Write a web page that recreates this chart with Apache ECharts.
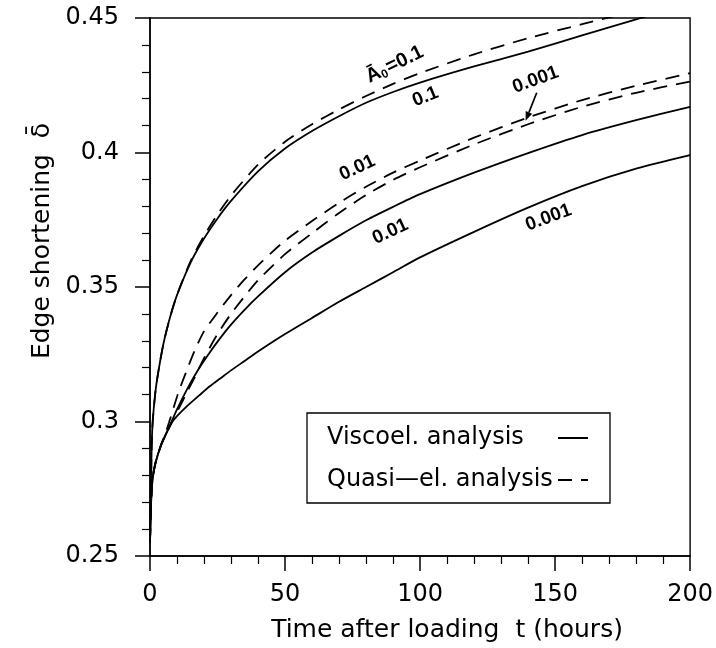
<!DOCTYPE html>
<html>
<head>
<meta charset="utf-8">
<script src="https://cdn.jsdelivr.net/npm/echarts@6/dist/echarts.min.js"></script>
<style>
html,body{margin:0;padding:0;background:#fff;}
#chart{width:716px;height:648px;}
</style>
</head>
<body>
<div id="chart"></div>
<script>
// ---- Data ----
const xTicks = [0, 50, 100, 150, 200];
const yTicks = [0.25, 0.3, 0.35, 0.4, 0.45];

// Viscoelastic analysis (solid), A0 = 0.1, 0.01, 0.001
const tVisc01 = [0, 0.3, 0.6, 1, 2, 3, 5, 7.5, 10, 15, 20, 25, 30, 40, 50, 60, 70, 80, 90, 100, 120, 140, 160, 180, 185];
const visc01  = [0.255, 0.272, 0.290, 0.300, 0.311, 0.318, 0.329, 0.339, 0.347, 0.359, 0.368, 0.3755, 0.382, 0.393, 0.4015, 0.408, 0.4135, 0.4185, 0.4225, 0.426, 0.432, 0.4375, 0.4435, 0.4495, 0.451];

const tVisc001 = [0, 0.3, 0.6, 1, 2, 4, 6, 8, 10, 14, 18, 22, 26, 30, 35, 40, 50, 60, 70, 80, 90, 100, 120, 140, 160, 180, 200];
const visc001  = [0.255, 0.267, 0.274, 0.279, 0.2845, 0.291, 0.2955, 0.300, 0.3045, 0.3125, 0.3195, 0.3255, 0.331, 0.336, 0.3415, 0.3465, 0.3555, 0.3628, 0.369, 0.3748, 0.3798, 0.3845, 0.3925, 0.3998, 0.4065, 0.412, 0.417];

const tVisc0001 = [0, 0.3, 0.6, 1, 2, 4, 6, 8, 10, 14, 18, 22, 26, 30, 35, 40, 50, 60, 70, 80, 90, 100, 120, 140, 160, 180, 200];
const visc0001  = [0.255, 0.267, 0.274, 0.279, 0.2845, 0.291, 0.2955, 0.2995, 0.302, 0.306, 0.3095, 0.313, 0.316, 0.319, 0.3225, 0.326, 0.3325, 0.3385, 0.3445, 0.350, 0.3555, 0.361, 0.3705, 0.3795, 0.3875, 0.394, 0.399];

// Quasi-elastic analysis (dashed), A0 = 0.1, 0.01, 0.001
const tQuasi01 = [0, 0.3, 0.6, 1, 2, 3, 5, 7.5, 10, 15, 20, 25, 30, 40, 50, 60, 70, 80, 90, 100, 120, 140, 160, 175];
const quasi01  = [0.255, 0.272, 0.290, 0.300, 0.311, 0.318, 0.329, 0.339, 0.347, 0.3595, 0.369, 0.377, 0.384, 0.3955, 0.404, 0.4105, 0.416, 0.421, 0.4255, 0.4295, 0.4365, 0.4425, 0.4477, 0.4515];

const tQuasi001 = [0, 0.3, 0.6, 1, 2, 4, 5, 7, 10.5, 14, 16.6, 20, 25, 30, 35, 40, 45, 50, 60, 70, 80, 90, 100, 120, 140, 160, 180, 200];
const quasi001  = [0.255, 0.267, 0.274, 0.279, 0.2845, 0.291, 0.2935, 0.2995, 0.3107, 0.320, 0.3265, 0.3335, 0.3405, 0.347, 0.3528, 0.358, 0.3628, 0.3672, 0.3745, 0.3813, 0.3873, 0.3925, 0.397, 0.4055, 0.413, 0.4195, 0.4248, 0.4295];

const tQuasi0001 = [0, 0.3, 0.6, 1, 2, 4, 5, 7, 10.5, 14, 16.6, 20, 25, 30, 35, 40, 45, 50, 60, 70, 80, 90, 100, 120, 140, 160, 180, 200];
const quasi0001  = [0.255, 0.267, 0.274, 0.279, 0.2845, 0.291, 0.2935, 0.2975, 0.3045, 0.3115, 0.3165, 0.3235, 0.3325, 0.340, 0.3465, 0.3525, 0.3575, 0.3622, 0.370, 0.3775, 0.3842, 0.3898, 0.3945, 0.403, 0.4105, 0.417, 0.4222, 0.4264];

// Curve annotations [text, t, value, rotation(deg)]
const curveLabels = [
  ['A0', 90.6, 0.4327, 26],
  ['0.1', 102, 0.4207, 22],
  ['0.001', 142.8, 0.427, 20],
  ['0.01', 76.8, 0.3943, 25],
  ['0.01', 89, 0.3706, 25],
  ['0.001', 147.6, 0.3758, 20]
];
// arrow from the upper 0.001 label to the lower dashed curve: [t, value]
const arrowFrom = [143.2, 0.4222];
const arrowTo = [139.1, 0.4118];

const legendNames = ['Viscoel. analysis', 'Quasi\u2014el. analysis'];

// ---- Chart ----
const FONT = 'DejaVu Sans';
const LFONT = 'Liberation Sans';
const chart = echarts.init(document.getElementById('chart'), null, {renderer: 'canvas'});

function zip(t, v) { return t.map((x, i) => [x, v[i]]); }

function lineSeries(name, t, v, dashed) {
  return {
    type: 'line', name: name, data: zip(t, v),
    symbol: 'none', smooth: 0.25, clip: true,
    lineStyle: {color: '#000', width: 1.8, type: dashed ? [14, 9] : 'solid'},
    itemStyle: {color: '#000'},
    z: 3
  };
}

const option = {
  animation: false,
  backgroundColor: '#fff',
  grid: {left: 150, right: 24, top: 18, bottom: 91, show: true, borderColor: '#000', borderWidth: 1.4, backgroundColor: 'transparent'},
  xAxis: {
    type: 'value', min: xTicks[0], max: xTicks[xTicks.length - 1], interval: 50,
    name: 'Time after loading  t (hours)', nameLocation: 'middle', nameGap: 62,
    nameTextStyle: {fontFamily: FONT, fontSize: 25, color: '#000', padding: [0, 0, 0, 54]},
    axisLine: {show: true, lineStyle: {color: '#000', width: 1.5}},
    axisTick: {show: true, length: 15, lineStyle: {color: '#000', width: 1.5}},
    minorTick: {show: true, splitNumber: 5, length: 8, lineStyle: {color: '#000', width: 1.2}},
    axisLabel: {fontFamily: FONT, fontSize: 24, color: '#000', margin: 27},
    splitLine: {show: false}
  },
  yAxis: {
    type: 'value', min: yTicks[0], max: yTicks[yTicks.length - 1], interval: 0.05,
    name: 'Edge shortening  \u03B4\u0304', nameLocation: 'middle', nameGap: 92,
    nameTextStyle: {fontFamily: FONT, fontSize: 25, color: '#000', padding: [0, 0, 0, 92]},
    axisLine: {show: true, lineStyle: {color: '#000', width: 1.5}},
    axisTick: {show: true, length: 15, lineStyle: {color: '#000', width: 1.5}},
    minorTick: {show: true, splitNumber: 5, length: 8, lineStyle: {color: '#000', width: 1.2}},
    axisLabel: {fontFamily: FONT, fontSize: 24, color: '#000', margin: 31,
      formatter: v => String(parseFloat(v.toFixed(2)))},
    splitLine: {show: false}
  },
  legend: {
    orient: 'vertical', left: 307, top: 413, align: 'right',
    itemWidth: 30, itemHeight: 14, itemGap: 18,
    padding: [13, 21, 11, 20],
    borderColor: '#000', borderWidth: 1.3, borderRadius: 0,
    backgroundColor: '#fff',
    itemStyle: {opacity: 0},
    data: legendNames,
    formatter: n => '{n|' + n + '}',
    textStyle: {fontFamily: FONT, fontSize: 24, color: '#000',
      rich: {n: {width: 226, align: 'left', fontFamily: FONT, fontSize: 24, color: '#000'}}}
  },
  series: [
    lineSeries(legendNames[0], tVisc01, visc01, false),
    lineSeries(legendNames[0], tVisc001, visc001, false),
    lineSeries(legendNames[0], tVisc0001, visc0001, false),
    lineSeries(legendNames[1], tQuasi01, quasi01, true),
    lineSeries(legendNames[1], tQuasi001, quasi001, true),
    lineSeries(legendNames[1], tQuasi0001, quasi0001, true)
  ]
};
chart.setOption(option);

// annotations positioned through the chart's own scales
const gfx = [];
curveLabels.forEach(([txt, t, v, rot]) => {
  const p = chart.convertToPixel({gridIndex: 0}, [t, v]);
  let style;
  if (txt === 'A0') {
    style = {
      text: '{a|\u0100}{s|0}{b|=0.1}',
      rich: {
        a: {fontFamily: LFONT, fontSize: 20, fontWeight: 'bold', fill: '#000'},
        s: {fontFamily: LFONT, fontSize: 12, fontWeight: 'bold', fill: '#000', padding: [9, 1, 0, 0]},
        b: {fontFamily: LFONT, fontSize: 20, fontWeight: 'bold', fill: '#000'}
      },
      align: 'center', verticalAlign: 'middle'
    };
  } else {
    style = {text: txt, fontFamily: LFONT, fontSize: 19, fontWeight: 'bold', fill: '#000', align: 'center', verticalAlign: 'middle'};
  }
  gfx.push({type: 'text', x: p[0], y: p[1], rotation: rot * Math.PI / 180, style: style, z: 10});
});
const a0 = chart.convertToPixel({gridIndex: 0}, arrowFrom);
const a1 = chart.convertToPixel({gridIndex: 0}, arrowTo);
const ang = Math.atan2(a1[1] - a0[1], a1[0] - a0[0]);
const hl = 9, hw = 3.5;
const bx = a1[0] - hl * Math.cos(ang), by = a1[1] - hl * Math.sin(ang);
gfx.push({type: 'line', shape: {x1: a0[0], y1: a0[1], x2: bx, y2: by}, style: {stroke: '#000', lineWidth: 1.7}, z: 10});
gfx.push({type: 'polygon', shape: {points: [[a1[0], a1[1]], [bx + hw * Math.sin(ang), by - hw * Math.cos(ang)], [bx - hw * Math.sin(ang), by + hw * Math.cos(ang)]]}, style: {fill: '#000'}, z: 10});
chart.setOption({graphic: gfx});
</script>
</body>
</html>
